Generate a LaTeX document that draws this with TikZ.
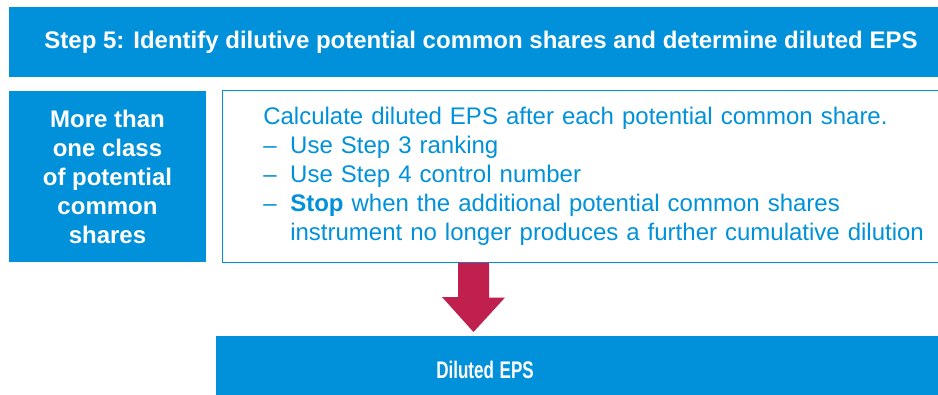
\documentclass[tikz,border=0pt]{standalone}
\usepackage{fontspec}
\setmainfont{Liberation Sans}
\usepackage{graphicx}
\usepackage{tikz}
\usetikzlibrary{positioning}
\definecolor{kblue}{HTML}{0091DA}
\definecolor{kred}{HTML}{C0204E}

\begin{document}
\begin{tikzpicture}[x=0.75pt, y=-0.75pt,
    bar/.style={rectangle, fill=kblue, text=white, font=\fontsize{18pt}{21.75pt}\selectfont\bfseries, inner sep=0pt},
    side box/.style={rectangle, fill=kblue, text=white, font=\fontsize{18pt}{21.75pt}\selectfont\bfseries, align=center, minimum width=147.75pt, minimum height=128.25pt},
    list box/.style={rectangle, text=kblue, font=\fontsize{18pt}{21.75pt}\selectfont, align=left, text width=520pt, inner xsep=30.75pt, minimum height=128.25pt}
]
    \useasboundingbox (0,0) rectangle (938,395);
    \clip (0,0) rectangle (938,395);

    % title bar
    \node[bar, minimum width=708pt, minimum height=52.5pt] (title) at (481,42) {Step 5: Identify dilutive potential common shares and determine diluted EPS};

    % left label and the list of rules
    \node[side box] (classes) at (107.5,176.5) {More than\\one class\\of potential\\common\\shares};
    \node[list box, anchor=north west] (calc) at (222,91) {Calculate diluted EPS after each potential common share.\\
        \makebox[20.25pt][l]{–}Use Step 3 ranking\\
        \makebox[20.25pt][l]{–}Use Step 4 control number\\
        \makebox[20.25pt][l]{–}\textbf{Stop} when the additional potential common shares\\
        \hspace*{20.25pt}instrument no longer produces a further cumulative dilution};
    % frame open to the right, the box runs on past the edge
    \draw[kblue, line width=0.75pt] (calc.north east) -- (calc.north west) -- (calc.south west) -- (calc.south east);

    % result bar
    \node[bar, anchor=west, text width=220pt, align=left, inner xsep=165pt, minimum height=51pt] (diluted) at (216,370) {\scalebox{0.71}[1]{Diluted EPS}};

    % block arrow down to the result
    \coordinate (arrow tip) at (473.5,332);
    \fill[kred] (calc.south -| arrow tip) ++(-15.5,0) -- ++(31,0) -- ++(0,35) -- ++(16,0)
        -- (arrow tip) -- ++(-31.5,-35) -- ++(16,0) -- cycle;
\end{tikzpicture}
\end{document}
